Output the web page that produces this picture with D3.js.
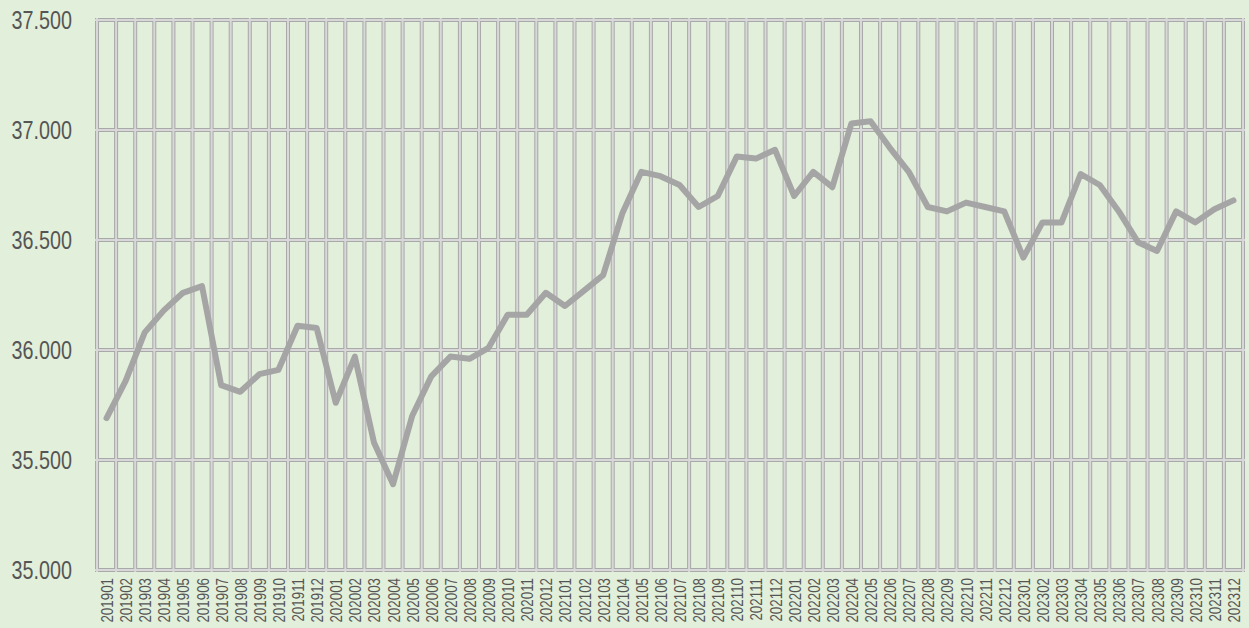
<!DOCTYPE html>
<html>
<head>
<meta charset="utf-8">
<script src="https://cdn.jsdelivr.net/npm/d3@7"></script>
<style>
  html, body { margin: 0; padding: 0; background: #e2efda; }
  svg { display: block; }
</style>
</head>
<body>
<svg id="chart" width="1249" height="628"></svg>
<script>
// Monthly periods, January 2019 to December 2023
const periods = [
  "201901","201902","201903","201904","201905","201906","201907","201908","201909","201910","201911","201912",
  "202001","202002","202003","202004","202005","202006","202007","202008","202009","202010","202011","202012",
  "202101","202102","202103","202104","202105","202106","202107","202108","202109","202110","202111","202112",
  "202201","202202","202203","202204","202205","202206","202207","202208","202209","202210","202211","202212",
  "202301","202302","202303","202304","202305","202306","202307","202308","202309","202310","202311","202312"
];

// Monthly values (thousands)
const values = [
  35.69, 35.86, 36.08, 36.18, 36.26, 36.29, 35.84, 35.81, 35.89, 35.91, 36.11, 36.10,
  35.76, 35.97, 35.58, 35.39, 35.70, 35.88, 35.97, 35.96, 36.01, 36.16, 36.16, 36.26,
  36.20, 36.27, 36.34, 36.62, 36.81, 36.79, 36.75, 36.65, 36.70, 36.88, 36.87, 36.91,
  36.70, 36.81, 36.74, 37.03, 37.04, 36.92, 36.81, 36.65, 36.63, 36.67, 36.65, 36.63,
  36.42, 36.58, 36.58, 36.80, 36.75, 36.63, 36.49, 36.45, 36.63, 36.58, 36.64, 36.68
];

// Y axis ticks and their labels
const yTicks = [35.0, 35.5, 36.0, 36.5, 37.0, 37.5];
const yTickLabels = ["35.000", "35.500", "36.000", "36.500", "37.000", "37.500"];

const svg = d3.select("#chart");
const plotLeft = 97, plotRight = 1243, plotTop = 20, plotBottom = 570;

const x = d3.scaleBand().domain(periods).range([plotLeft, plotRight]).padding(0);
const y = d3.scaleLinear().domain([35.0, 37.5]).range([plotBottom, plotTop]);

const FONT = "'Liberation Sans', Arial, sans-serif";
const TEXT = "#555555";

// Grid: doubled lines (darker edges, lighter core)
const grid = svg.append("g");
const vLines = periods.map(p => x(p)).concat([plotRight]);
function gridLayer(stroke, width) {
  const g = grid.append("g").attr("stroke", stroke).attr("stroke-width", width);
  g.selectAll("line.v").data(vLines).join("line").attr("class", "v")
    .attr("x1", d => d).attr("x2", d => d)
    .attr("y1", plotTop - 2).attr("y2", plotBottom + 2);
  g.selectAll("line.h").data(yTicks).join("line").attr("class", "h")
    .attr("x1", plotLeft - 2).attr("x2", plotRight + 2)
    .attr("y1", d => y(d)).attr("y2", d => y(d));
}
gridLayer("#a9a9a9", 4);
gridLayer("#d8d8d8", 2);

// Y axis labels
const yAxis = d3.axisLeft(y).tickValues(yTicks)
  .tickFormat((d, i) => yTickLabels[i]).tickSize(0).tickPadding(0);
const yg = svg.append("g").attr("transform", "translate(72,0)").call(yAxis);
yg.select(".domain").remove();
yg.selectAll("text")
  .attr("fill", TEXT)
  .attr("font-family", FONT)
  .attr("font-size", 25)
  .attr("x", 0)
  .attr("dy", "0.34em")
  .attr("transform", "scale(0.79,1)");

// X axis labels (vertical)
const xAxis = d3.axisBottom(x).tickSize(0).tickPadding(0);
const xg = svg.append("g").attr("transform", `translate(0,${plotBottom})`).call(xAxis);
xg.select(".domain").remove();
xg.selectAll("text")
  .attr("fill", TEXT)
  .attr("font-family", FONT)
  .attr("font-size", 16.5)
  .attr("text-anchor", "end")
  .attr("dominant-baseline", "central")
  .attr("x", 0).attr("y", 0).attr("dy", 0)
  .attr("transform", "translate(0.5,8) rotate(-90) scale(0.81,1)");

// Series line
const line = d3.line()
  .x((d, i) => x(periods[i]) + x.bandwidth() / 2)
  .y(d => y(d));

svg.append("path")
  .datum(values)
  .attr("d", line)
  .attr("fill", "none")
  .attr("stroke", "#a5a5a5")
  .attr("stroke-width", 6)
  .attr("stroke-linejoin", "round")
  .attr("stroke-linecap", "round");
</script>
</body>
</html>
